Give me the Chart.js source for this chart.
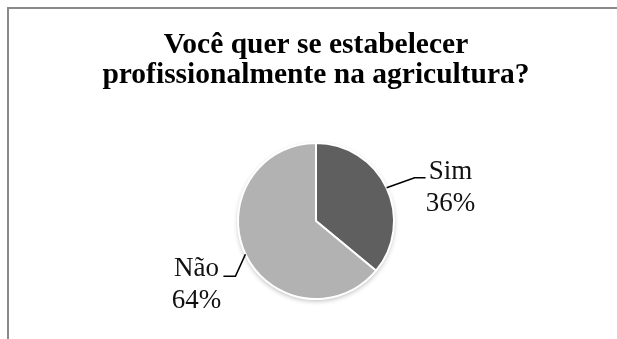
<!DOCTYPE html>
<html>
<head>
<meta charset="utf-8">
<script src="https://cdn.jsdelivr.net/npm/chart.js@4/dist/chart.umd.min.js"></script>
<style>
  html, body { margin: 0; padding: 0; background: #fff; }
  #wrap { position: relative; width: 617px; height: 339px; }
</style>
</head>
<body>
<div id="wrap"><canvas id="c" width="617" height="339"></canvas></div>
<script>
const categories = ['Sim', 'Não'];
const values = [36, 64];
const sliceColors = ['#5f5f5f', '#b2b2b2'];
const titleLines = ['Você quer se estabelecer', 'profissionalmente na agricultura?'];

const frame = {
  id: 'frame',
  beforeDraw(chart) {
    const ctx = chart.ctx;
    ctx.save();
    ctx.fillStyle = '#fff';
    ctx.fillRect(0, 0, chart.width, chart.height);
    ctx.strokeStyle = '#8a8a8a';
    ctx.lineWidth = 2;
    ctx.beginPath();
    ctx.moveTo(8, chart.height + 2);
    ctx.lineTo(8, 8);
    ctx.lineTo(chart.width + 2, 8);
    ctx.stroke();
    ctx.restore();
  }
};

const pieShadow = {
  id: 'pieShadow',
  beforeDatasetsDraw(chart) {
    const arc = chart.getDatasetMeta(0).data[0];
    if (!arc) return;
    const ctx = chart.ctx;
    ctx.save();
    ctx.shadowColor = 'rgba(0,0,0,0.28)';
    ctx.shadowBlur = 5;
    ctx.shadowOffsetY = 2;
    ctx.fillStyle = '#ffffff';
    ctx.beginPath();
    ctx.arc(arc.x, arc.y, arc.outerRadius, 0, Math.PI * 2);
    ctx.fill();
    ctx.restore();
  }
};

// leader-line geometry relative to each slice's mid-edge point
const leaderStyle = [
  { elbow: [28, -10], run: 11, textDx: 25, baseDy: 1 },
  { elbow: [-10, 22], run: -12, textDx: -27, baseDy: 0 }
];

const pieLabels = {
  id: 'pieLabels',
  afterDatasetsDraw(chart) {
    const ctx = chart.ctx;
    const meta = chart.getDatasetMeta(0);
    ctx.save();
    meta.data.forEach((arc, i) => {
      const mid = (arc.startAngle + arc.endAngle) / 2;
      const sx = arc.x + Math.cos(mid) * arc.outerRadius;
      const sy = arc.y + Math.sin(mid) * arc.outerRadius;
      const st = leaderStyle[i];
      const ex = sx + st.elbow[0], ey = sy + st.elbow[1];
      const fx = ex + st.run;
      ctx.strokeStyle = '#000';
      ctx.lineWidth = 1.6;
      ctx.beginPath();
      ctx.moveTo(sx, sy);
      ctx.lineTo(ex, ey);
      ctx.lineTo(fx, ey);
      ctx.stroke();
      ctx.fillStyle = '#111';
      ctx.font = '27px "Liberation Serif", serif';
      ctx.textAlign = 'center';
      ctx.textBaseline = 'alphabetic';
      const cx = fx + st.textDx;
      const by = ey + st.baseDy;
      ctx.fillText(categories[i], cx, by);
      ctx.fillText(values[i] + '%', cx, by + 32);
    });
    ctx.restore();
  }
};

new Chart(document.getElementById('c'), {
  type: 'pie',
  data: {
    labels: categories,
    datasets: [{
      data: values,
      backgroundColor: sliceColors,
      borderColor: '#ffffff',
      borderWidth: 2,
      radius: 78
    }]
  },
  options: {
    responsive: false,
    animation: false,
    devicePixelRatio: 1,
    layout: { padding: { left: 15, right: 0, top: 0, bottom: 7 } },
    plugins: {
      legend: { display: false },
      tooltip: { enabled: false },
      title: {
        display: true,
        text: titleLines,
        color: '#000',
        font: { family: '"Liberation Serif", "Times New Roman", serif', size: 29.5, weight: 'bold', lineHeight: 1.0 },
        padding: { top: 31, bottom: 20 }
      }
    }
  },
  plugins: [frame, pieShadow, pieLabels]
});
</script>
</body>
</html>
